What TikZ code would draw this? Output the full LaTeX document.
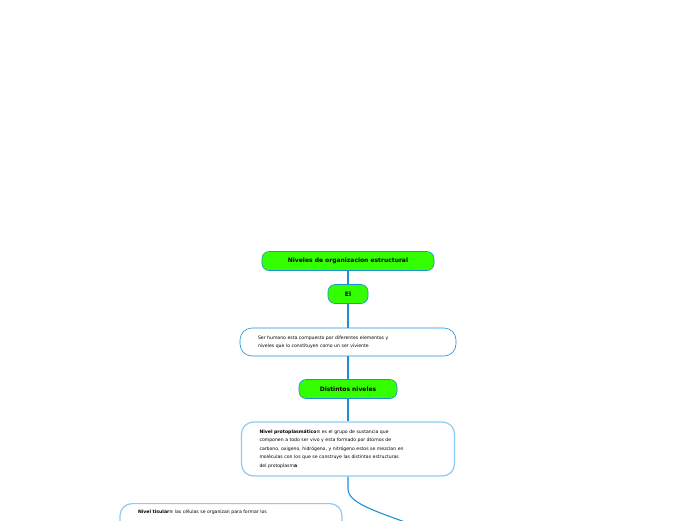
\documentclass[tikz,border=0pt]{standalone}
\usepackage{fontspec}
\setmainfont{DejaVu Sans}
\definecolor{lima}{HTML}{33FF00}
\definecolor{linkblue}{HTML}{1C8FD8}
\definecolor{boxblue}{HTML}{8CCBF2}
\tikzset{
  topic/.style={draw=linkblue, fill=lima, rounded corners=7pt, minimum height=19pt,
    font=\fontsize{6}{7}\selectfont\bfseries, line width=0.6pt},
  textbox/.style={draw=boxblue, fill=white, rounded corners=12pt, line width=1.2pt,
    font=\fontsize{4.6}{8.5}\selectfont, align=left, inner xsep=18pt, inner ysep=6pt},
  link/.style={draw=linkblue, line width=1.1pt}
}
\begin{document}
\begin{tikzpicture}[x=1pt, y=-1pt]
  \useasboundingbox (0,0) rectangle (696,520);
  \clip (0,0) rectangle (696,520);
  % main column
  \node[topic, minimum width=172pt] (title) at (348,261) {Niveles de organizacion estructural};
  \node[topic, minimum width=40pt] (el) at (348,294) {El};
  \node[textbox, draw=linkblue, line width=0.6pt, minimum width=216pt, minimum height=28pt, text width=180pt] (ser) at (348,342)
    {Ser humano esta compuesto por diferentes elementos y\\niveles que lo constituyen como un ser viviente};
  \node[topic, minimum width=98pt] (niv) at (348,389) {Distintos niveles};
  \node[textbox, minimum width=213pt, minimum height=54pt, text width=177pt] (proto) at (348,449)
    {\textbf{Nivel protoplasmático}≡ es el grupo de sustancia que\\componen a todo ser vivo y esta formado por átomos de\\carbono, oxigeno, hidrógeno, y nitrógeno estos se mezclan en\\moléculas con los que se construye las distintas estructuras\\del protoplasm\textbf{a}};
  \node[textbox, minimum width=222pt, text width=186pt, anchor=north] (tis) at (231,503)
    {\textbf{Nivel tisular}≡ las células se organizan para formar los\\\mbox{}\\\mbox{}\\\mbox{}};
  \coordinate (next) at (440,535);
  % connectors
  \draw[link] (title) -- (el);
  \draw[link] (el) -- (ser);
  \draw[link] (ser) -- (niv);
  \draw[link] (niv) -- (proto);
  \draw[link] (proto.south) -- ++(0,12) .. controls (348,505) and (380,512) .. (next);
\end{tikzpicture}
\end{document}
